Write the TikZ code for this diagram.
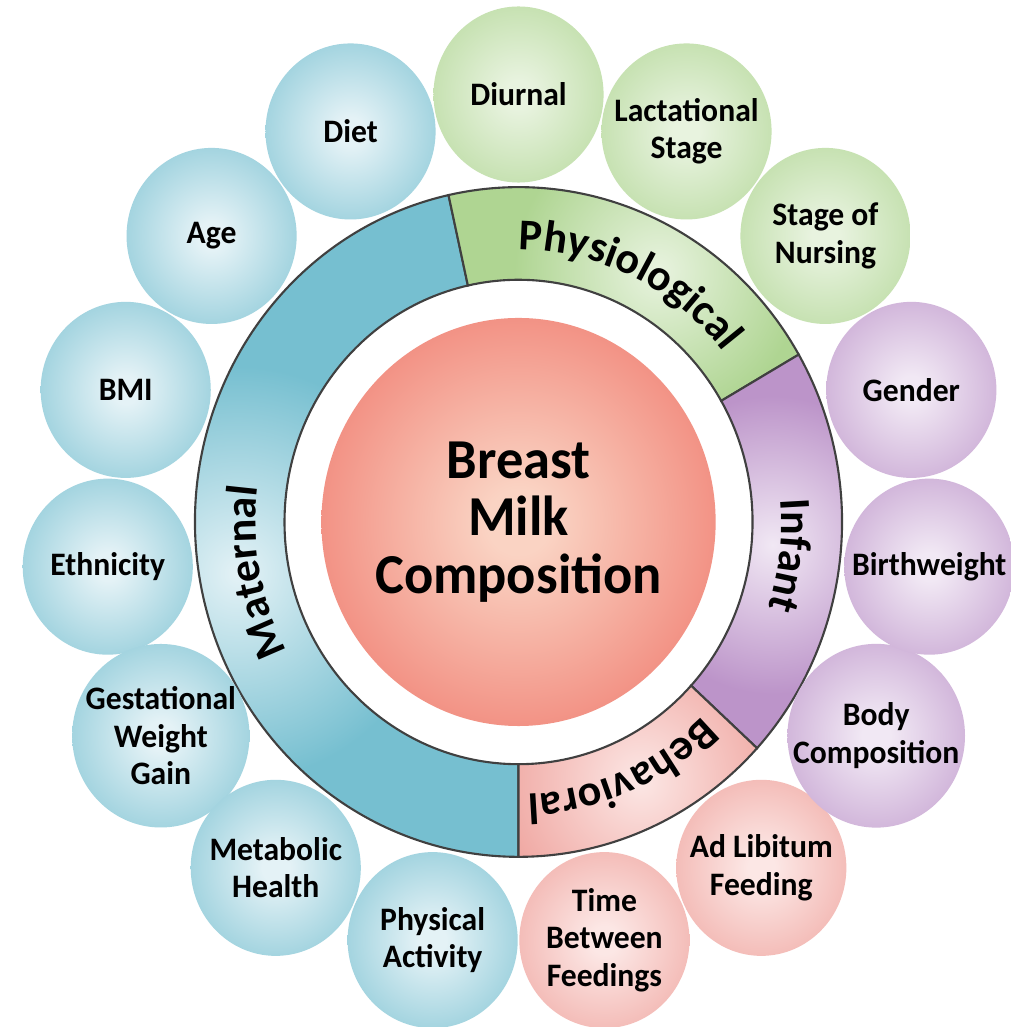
\documentclass[tikz,border=0pt]{standalone}
\usepackage{fontspec}
\setmainfont{Carlito}
\usepackage{xcolor}
\usetikzlibrary{decorations.text}

\definecolor{matfill}{HTML}{76BFD0}
\definecolor{matlight}{HTML}{E4F2F6}
\definecolor{phyfill}{HTML}{AFD592}
\definecolor{phylight}{HTML}{E8F3DF}
\definecolor{inffill}{HTML}{BC94C9}
\definecolor{inflight}{HTML}{F1E8F4}
\definecolor{behfill}{HTML}{EE9F99}
\definecolor{behlight}{HTML}{FCE7E5}
\definecolor{corefill}{HTML}{EC5E53}
\definecolor{corelight}{HTML}{FAD3C3}

\pgfdeclareradialshading{matball}{\pgfpointorigin}{color(0bp)=(matlight); color(4bp)=(matlight); color(40bp)=(matfill); color(50bp)=(matfill)}
\pgfdeclareradialshading{phyball}{\pgfpointorigin}{color(0bp)=(phylight); color(4bp)=(phylight); color(40bp)=(phyfill); color(50bp)=(phyfill)}
\pgfdeclareradialshading{infball}{\pgfpointorigin}{color(0bp)=(inflight); color(4bp)=(inflight); color(40bp)=(inffill); color(50bp)=(inffill)}
\pgfdeclareradialshading{behball}{\pgfpointorigin}{color(0bp)=(behlight); color(4bp)=(behlight); color(40bp)=(behfill); color(50bp)=(behfill)}
\pgfdeclareradialshading{coreball}{\pgfpointorigin}{color(0bp)=(corelight); color(4bp)=(corelight); color(42bp)=(corefill); color(50bp)=(corefill)}

\pgfdeclareradialshading{matring}{\pgfpointorigin}{color(0bp)=(matlight); color(10bp)=(matfill); color(50bp)=(matfill)}
\pgfdeclareradialshading{phyring}{\pgfpointorigin}{color(0bp)=(phylight); color(8bp)=(phyfill); color(50bp)=(phyfill)}
\pgfdeclareradialshading{infring}{\pgfpointorigin}{color(0bp)=(inflight); color(8bp)=(inffill); color(50bp)=(inffill)}
\pgfdeclareradialshading{behring}{\pgfpointorigin}{color(0bp)=(behlight); color(9bp)=(behfill); color(50bp)=(behfill)}

\newcommand{\ringfont}{\fontsize{12.5}{15}\selectfont\bfseries}

\begin{document}
\begin{tikzpicture}[
    x=0.01cm, y=0.01cm, yscale=1.035, transform shape,
    bubble/.style={circle,minimum size=1.7cm,inner sep=0pt,align=center,
                   font=\fontsize{9}{10.3}\selectfont\bfseries},
    maternal/.style={bubble,shading=matball},
    physio/.style={bubble,shading=phyball},
    infant/.style={bubble,shading=infball},
    behav/.style={bubble,shading=behball},
    core/.style={circle,minimum size=3.94cm,inner sep=0pt,align=center,shading=coreball,
                 font=\fontsize{15.5}{15.8}\selectfont\bfseries},
    seg/.style={draw=black!75,line width=0.6pt},
    ringlabel/.style={decorate,decoration={text along path,text align=center,text={|\ringfont|#1}}}
  ]
    \path[use as bounding box,fill=white] (-518.5,-487.9) rectangle (491.5,504.3);

    \path[seg,fill=matfill,path picture={\shade[shading=matring] (190:285) circle[radius=500];}]
      (102.5:323.5) arc[start angle=102.5,end angle=270,radius=323.5]
      -- (270:234) arc[start angle=270,end angle=102.5,radius=234] -- cycle;
    \path[seg,fill=phyfill,path picture={\shade[shading=phyring] (60:280) circle[radius=450];}]
      (30:323.5) arc[start angle=30,end angle=102.5,radius=323.5]
      -- (102.5:234) arc[start angle=102.5,end angle=30,radius=234] -- cycle;
    \path[seg,fill=inffill,path picture={\shade[shading=infring] (-5:255) circle[radius=450];}]
      (-42.5:323.5) arc[start angle=-42.5,end angle=30,radius=323.5]
      -- (30:234) arc[start angle=30,end angle=-42.5,radius=234] -- cycle;
    \path[seg,fill=behfill,path picture={\shade[shading=behring] (-64:278) circle[radius=450];}]
      (-90:323.5) arc[start angle=-90,end angle=-42.5,radius=323.5]
      -- (-42.5:234) arc[start angle=-42.5,end angle=-90,radius=234] -- cycle;

    \path[ringlabel=Physiological] (104.5:263) arc[start angle=104.5,end angle=24.5,radius=263];
    \path[ringlabel=Infant] (33:263) arc[start angle=33,end angle=-47,radius=263];
    \path[ringlabel=Behavioral] (-27:263) arc[start angle=-27,end angle=-107,radius=263];
    \path[ringlabel=Maternal] (230.5:263) arc[start angle=230.5,end angle=150.5,radius=263];

    \node[core] (milk) at (0,0) {Breast\\Milk\\Composition};

    \node[physio] (diurnal) at (90:413) {Diurnal};
    \node[maternal] (diet) at (114:413) {Diet};
    \node[maternal] (age) at (138:413) {Age};
    \node[maternal] (bmi) at (162:413) {BMI};
    \node[maternal] (ethnicity) at (186:413) {Ethnicity};
    \node[maternal] (gwg) at (210:413) {Gestational\\Weight\\Gain};
    \node[maternal] (metabolic) at (234:413) {Metabolic\\Health};
    \node[maternal] (activity) at (258:413) {Physical\\Activity};
    \node[behav] (interval) at (282:413) {Time\\Between\\Feedings};
    \node[behav] (adlib) at (306:413) {Ad Libitum\\Feeding};
    \node[infant] (bodycomp) at (330:413) {Body\\Composition};
    \node[infant] (birthweight) at (354:413) {Birthweight};
    \node[infant] (gender) at (18:413) {Gender};
    \node[physio] (nursing) at (42:413) {Stage of\\Nursing};
    \node[physio] (lactation) at (66:413) {Lactational\\Stage};
  \end{tikzpicture}
\end{document}
